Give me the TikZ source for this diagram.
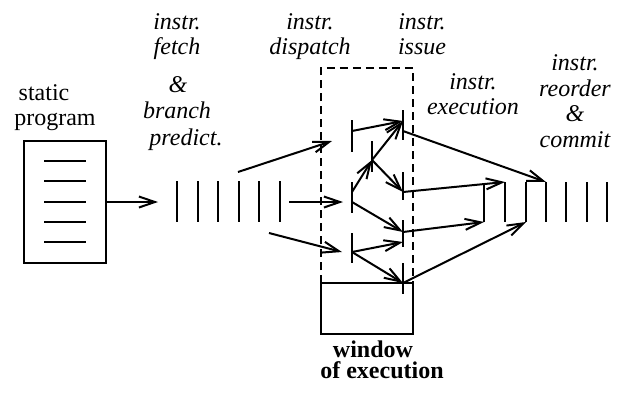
\documentclass[tikz,border=0pt]{standalone}
\usepackage{fontspec}
\setmainfont{Liberation Serif}
\usetikzlibrary{arrows.meta}
\newcommand{\slotbar}[3]{ \draw[bar] ( #1 , #2 ) -- ( #1 , #3 );}
\newcommand{\stagelbl}[5][lbl]{\node[#1] (#2) at ( #3 , #4 ) {#5};}
\tikzset{
  bar/.style={line width=1pt},
  flow/.style={line width=1pt,-{Straight Barb[length=8pt,width=5.5pt]}},
  lbl/.style={anchor=base,inner sep=0pt,font=\fontsize{12}{14}\selectfont\itshape},
  uplbl/.style={lbl,font=\fontsize{12}{14}\selectfont},
  bflbl/.style={lbl,font=\fontsize{12}{14}\selectfont\bfseries},
}
\begin{document}
\begin{tikzpicture}[x=0.5pt,y=-0.5pt]
        \useasboundingbox (0,0) rectangle (623,393);
        % static program
        \draw[bar] (24,141) rectangle (106,263);
        \draw[bar] (44,161) -- (86,161);
        \draw[bar] (44,181) -- (86,181);
        \draw[bar] (44,202) -- (86,202);
        \draw[bar] (44,222) -- (86,222);
        \draw[bar] (44,242) -- (86,242);
        % fetch queue
        \slotbar{177}{181}{222}
        \slotbar{198}{181}{222}
        \slotbar{218}{181}{222}
        \slotbar{239}{181}{222}
        \slotbar{259}{181}{222}
        \slotbar{280}{181}{222}
        % window of execution
        \draw[bar,dash pattern=on 4pt off 2.5pt] (321,283) -- (321,68) -- (413,68) -- (413,283);
        \draw[bar] (321,283) rectangle (413,334);
        % dispatch bars
        \slotbar{352}{120}{152}
        \slotbar{352}{182}{213}
        \slotbar{352}{233}{263}
        \slotbar{372}{141}{172}
        % issue bars
        \slotbar{403}{110}{140}
        \slotbar{403}{172}{200}
        \slotbar{403}{220}{247}
        \slotbar{403}{263}{294}
        % execution bars
        \slotbar{484}{184}{222}
        \slotbar{505}{182}{222}
        \slotbar{526}{182}{222}
        % reorder buffer
        \slotbar{546}{182}{222}
        \slotbar{566}{182}{222}
        \slotbar{587}{182}{222}
        \slotbar{607}{182}{222}
        % end points
        \coordinate (prog) at (106,202);
        \coordinate (qin) at (158,202);
        \coordinate (fq1) at (238,172);
        \coordinate (fq2) at (289,202);
        \coordinate (fq3) at (269,233);
        \coordinate (dinA) at (332,141);
        \coordinate (dinB) at (343,202);
        \coordinate (dinC) at (342,252);
        \coordinate (dA) at (352,131);
        \coordinate (dBt) at (352,192);
        \coordinate (dB) at (352,202);
        \coordinate (dC) at (352,252);
        \coordinate (mid) at (372,160);
        \coordinate (iss1) at (403,121);
        \coordinate (iss1o) at (403,131);
        \coordinate (iss2) at (403,192);
        \coordinate (iss3) at (403,232);
        \coordinate (iss3b) at (403,242);
        \coordinate (iss4) at (403,283);
        \coordinate (ex0) at (484,222);
        \coordinate (ex1) at (505,182);
        \coordinate (ex2) at (526,222);
        \coordinate (rob) at (546,182);
        % arrows
        \draw[flow] (prog) -- (qin);
        \draw[flow] (fq1) -- (dinA);
        \draw[flow] (fq2) -- (dinB);
        \draw[flow] (fq3) -- (dinC);
        \draw[flow] (dA) -- (iss1);
        \draw[flow] (dBt) -- (mid);
        \draw[flow] (mid) -- (iss1);
        \draw[flow] (mid) -- (iss2);
        \draw[flow] (dB) -- (iss3);
        \draw[flow] (dC) -- (iss3b);
        \draw[flow] (dC) -- (iss4);
        \draw[flow] (iss1o) -- (rob);
        \draw[flow] (iss2) -- (ex1);
        \draw[flow] (iss3) -- (ex0);
        \draw[flow] (iss4) -- (ex2);
        % labels
        \stagelbl[uplbl]{progA}{44}{100}{static}
        \stagelbl[uplbl]{progB}{55}{125}{program}
        \stagelbl{fetchA}{177}{29}{instr.}
        \stagelbl{fetchB}{177}{54}{fetch}
        \stagelbl{fetchC}{178}{92}{\&}
        \stagelbl{fetchD}{177}{118}{branch}
        \stagelbl{fetchE}{186}{145}{predict.}
        \stagelbl{dispA}{310}{29}{instr.}
        \stagelbl{dispB}{310}{54}{dispatch}
        \stagelbl{issA}{422}{29}{instr.}
        \stagelbl{issB}{422}{54}{issue}
        \stagelbl{execA}{473}{89}{instr.}
        \stagelbl{execB}{473}{114}{execution}
        \stagelbl{commA}{575}{70}{instr.}
        \stagelbl{commB}{575}{96}{reorder}
        \stagelbl{commC}{575}{121}{\&}
        \stagelbl{commD}{575}{147}{commit}
        \stagelbl[bflbl]{winA}{373}{357}{window}
        \stagelbl[bflbl]{winB}{382}{378}{of execution}
\end{tikzpicture}
\end{document}
